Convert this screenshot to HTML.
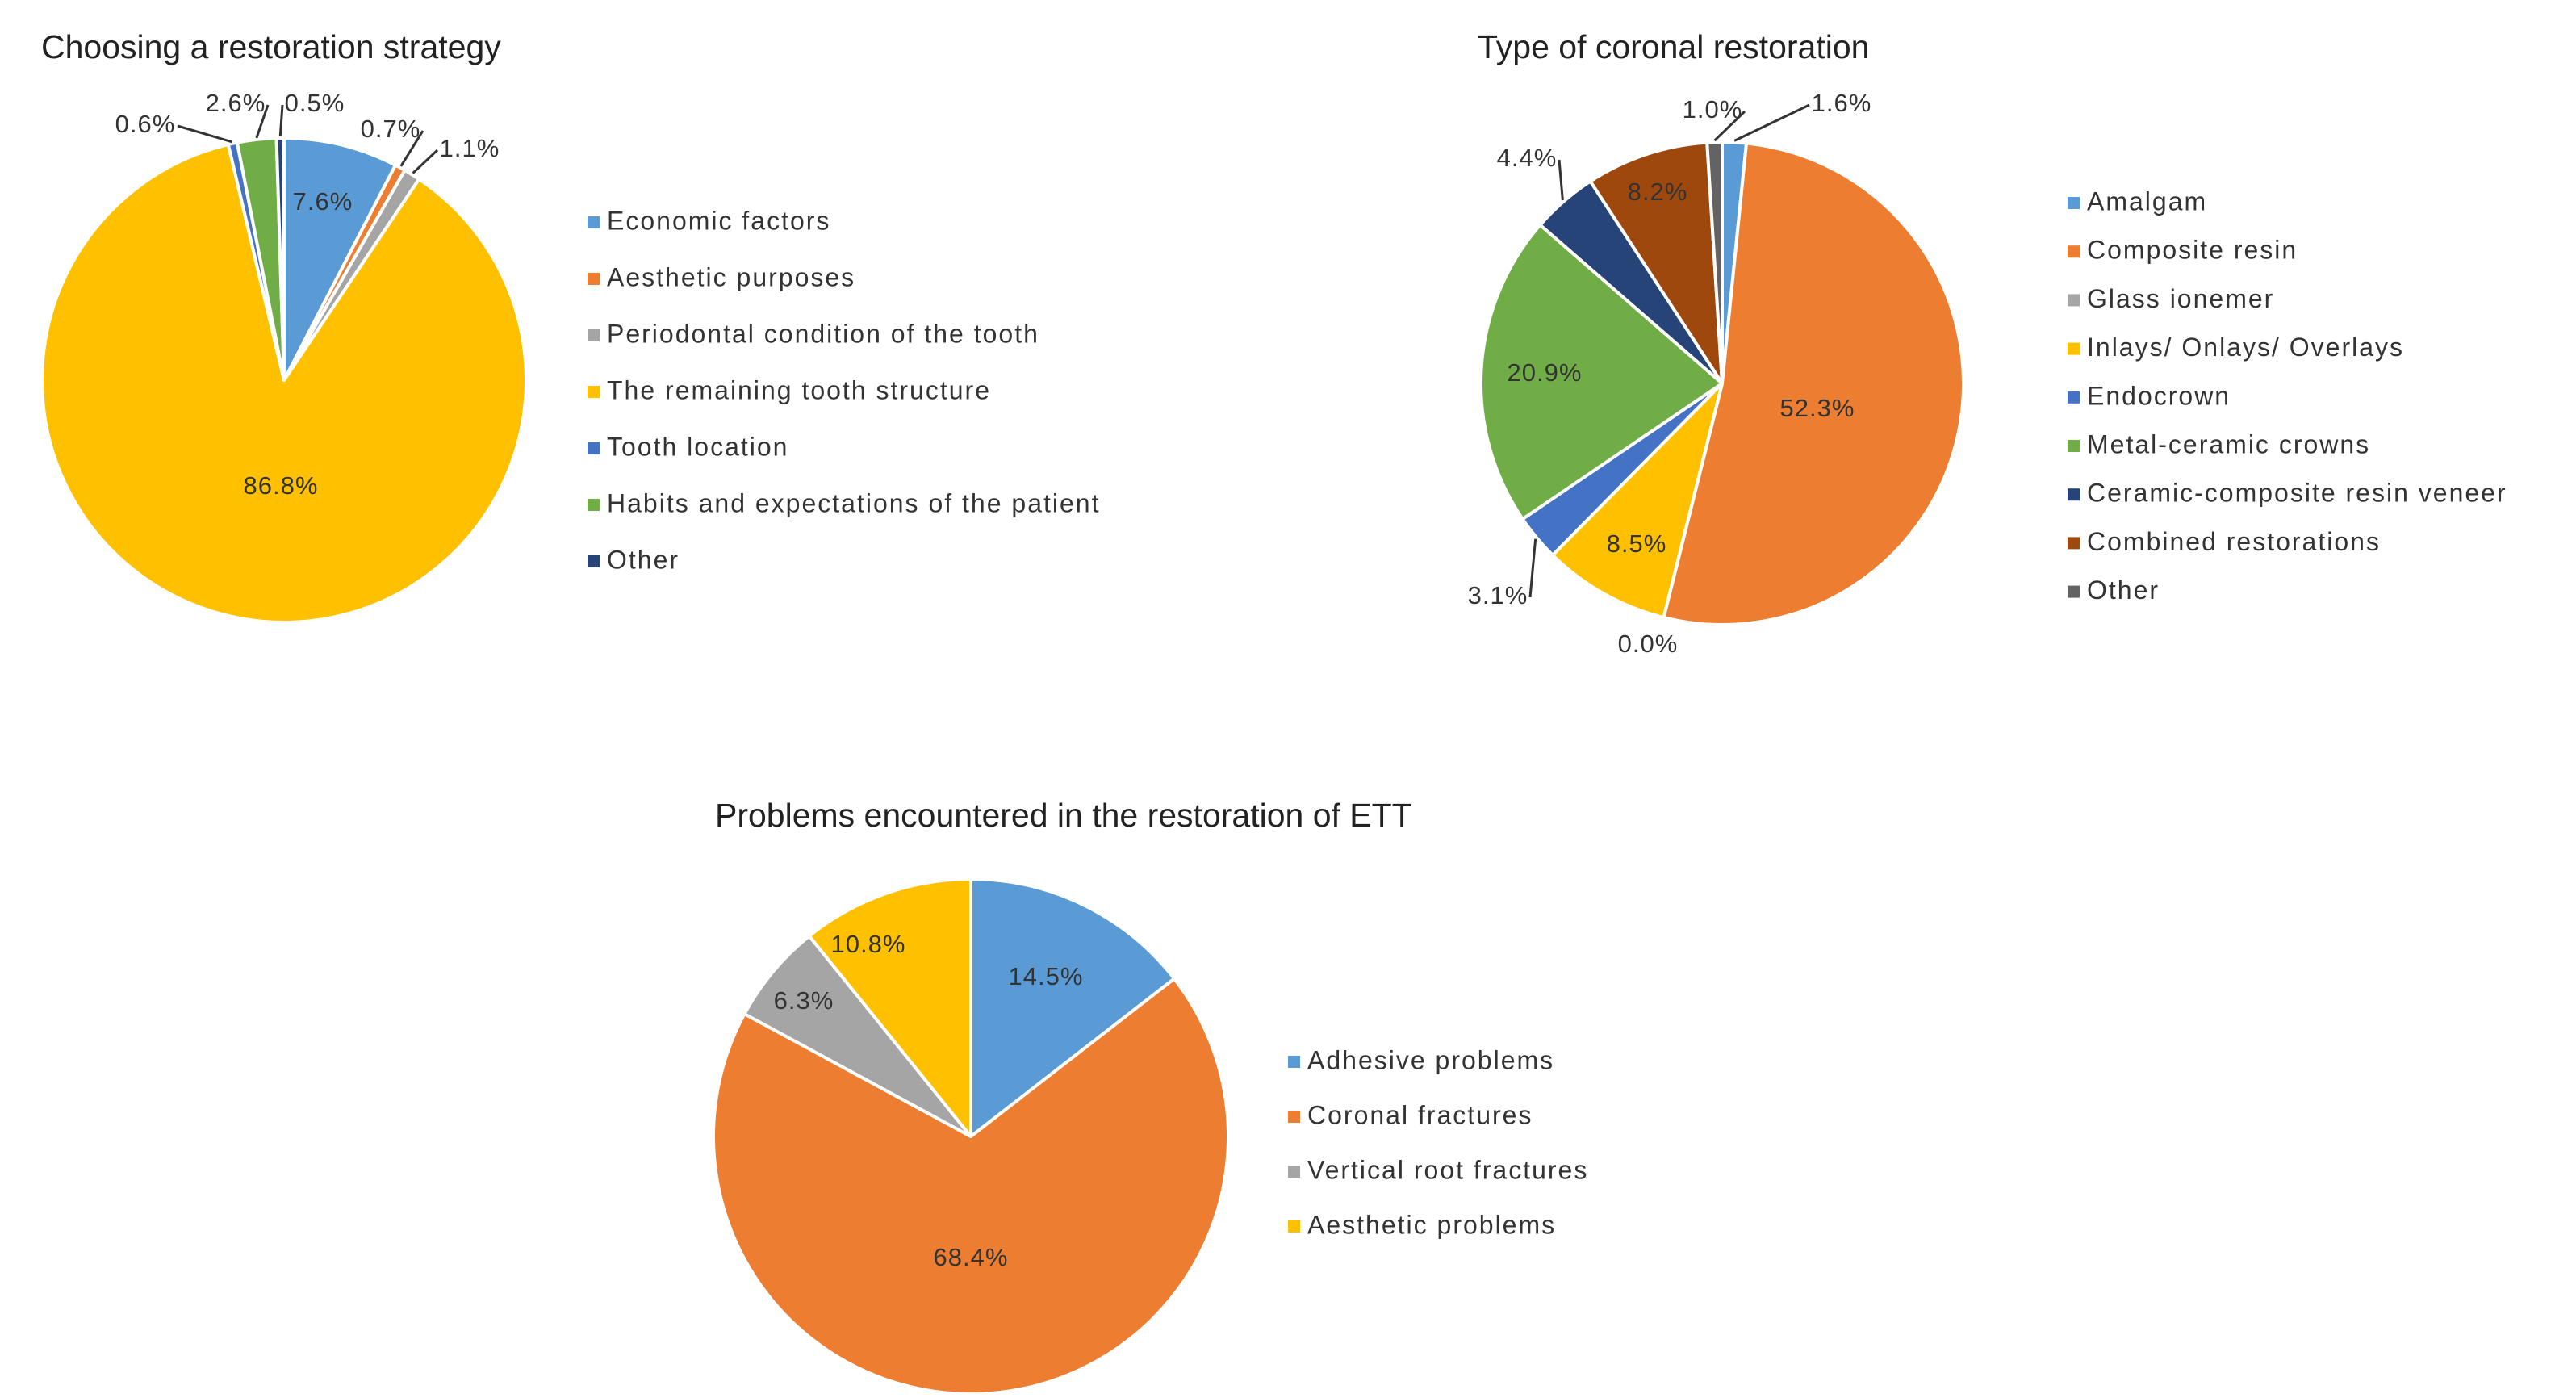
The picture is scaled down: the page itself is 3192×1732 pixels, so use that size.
<!DOCTYPE html>
<html><head><meta charset="utf-8">
<style>
html,body{margin:0;padding:0;background:#fff;}
svg{display:block;font-family:"Liberation Sans Narrow","Liberation Sans",sans-serif;}
</style></head>
<body>
<svg id="fig" width="3192" height="1732" viewBox="0 0 3192 1732" xmlns="http://www.w3.org/2000/svg"></svg>
<script>
// ---- Chart 1 data ----
const c1Categories = ["Economic factors","Aesthetic purposes","Periodontal condition of the tooth","The remaining tooth structure"," Tooth location","Habits and expectations of the patient","Other"];
const c1Values = [7.6,0.7,1.1,86.8,0.6,2.6,0.5];
const c1Labels = ["7.6%","0.7%","1.1%","86.8%","0.6%","2.6%","0.5%"];
// ---- Chart 2 data ----
const c2Categories = ["Amalgam","Composite resin","Glass ionemer","Inlays/ Onlays/ Overlays","Endocrown","Metal-ceramic crowns","Ceramic-composite resin veneer","Combined restorations","Other"];
const c2Values = [1.6,52.3,0.0,8.5,3.1,20.9,4.4,8.2,1.0];
const c2Labels = ["1.6%","52.3%","0.0%","8.5%","3.1%","20.9%","4.4%","8.2%","1.0%"];
// ---- Chart 3 data ----
const c3Categories = ["Adhesive problems","Coronal fractures","Vertical root fractures","Aesthetic problems"];
const c3Values = [14.5,68.4,6.3,10.8];
const c3Labels = ["14.5%","68.4%","6.3%","10.8%"];

const NS="http://www.w3.org/2000/svg";
const svg=document.getElementById('fig');
function mk(tag,attrs,parent){const e=document.createElementNS(NS,tag);for(const k in attrs)e.setAttribute(k,attrs[k]);(parent||svg).appendChild(e);return e;}

// layout (not data): label anchor positions, leader flag (0 inside,1 leader,2 outside no leader)
const layouts=[
 {title:"Choosing a restoration strategy",tx:51,ty:72,cx:352,cy:471,r:300,
  colors:["#5B9BD5","#ED7D31","#A5A5A5","#FFC000","#4472C4","#70AD47","#264478"],
  lab:[[400,252,0],[484,162,1],[582,186,1],[348,604,0],[180,156,1],[292,130,1],[390,130,1]],
  legX:728,legY:276,legDy:70,fs:31,legFs:32},
 {title:"Type of coronal restoration",tx:1831,ty:72,cx:2134,cy:475,r:299,
  colors:["#5B9BD5","#ED7D31","#A5A5A5","#FFC000","#4472C4","#70AD47","#264478","#9E480E","#636363"],
  lab:[[2282,130,1],[2252,508,0],[2042,800,2],[2028,676,0],[1856,740,1],[1914,464,0],[1892,198,1],[2054,240,0],[2122,138,1]],
  legX:2562,legY:252,legDy:60.2,fs:31,legFs:32},
 {title:"Problems encountered in the restoration of ETT",tx:886,ty:1024,cx:1203,cy:1408,r:319,
  colors:["#5B9BD5","#ED7D31","#A5A5A5","#FFC000"],
  lab:[[1296,1212,0],[1203,1560,0],[996,1242,0],[1076,1172,0]],
  legX:1596,legY:1316,legDy:68,fs:31,legFs:32}
];
const datasets=[[c1Categories,c1Values,c1Labels],[c2Categories,c2Values,c2Labels],[c3Categories,c3Values,c3Labels]];

datasets.forEach((ds,ci)=>{
  const [cats,vals,labs]=ds;const L=layouts[ci];
  const g=mk('g',{});
  
  
  const t=mk('text',{x:L.tx,y:L.ty,'font-size':41,fill:'#222'},g);t.textContent=L.title;
  
  
  const total=vals.reduce((a,b)=>a+b,0);
  let acc=0;
  vals.forEach((v,i)=>{
    const a0=acc/total*2*Math.PI; acc+=v; const a1=acc/total*2*Math.PI;
    const p=(a)=>[L.cx+L.r*Math.sin(a),L.cy-L.r*Math.cos(a)];
    const [x0,y0]=p(a0),[x1,y1]=p(a1);
    const large=(a1-a0)>Math.PI?1:0;
    let d;
    if(v>0) d=`M${L.cx},${L.cy} L${x0},${y0} A${L.r},${L.r} 0 ${large} 1 ${x1},${y1} Z`;
    else d=`M${L.cx},${L.cy} L${x0},${y0} Z`;
    const s=mk('path',{d:d,fill:L.colors[i],stroke:'#fff','stroke-width':4,'stroke-linejoin':'round'},g);
    
    
    const [lx,ly,out]=L.lab[i];
    if(out===1){
      const am=(a0+a1)/2;
      const ex=L.cx+(L.r+2)*Math.sin(am), ey=L.cy-(L.r+2)*Math.cos(am);
      const side=ex>lx?1:-1;
      const ax=lx+side*40, ay=ly;
      const ln=mk('polyline',{points:`${ex},${ey} ${ax},${ay}`,fill:'none',stroke:'#333','stroke-width':3},g);
      
      
    }
    const lt=mk('text',{x:lx,y:ly,'font-size':L.fs,'text-anchor':'middle','dominant-baseline':'middle',fill:'#333','letter-spacing':1},g);
    lt.textContent=labs[i];
    
    
    const ly2=L.legY+i*L.legDy;
    const sq=mk('rect',{x:L.legX,y:ly2-8,width:15,height:15,fill:L.colors[i]},g);
    
    
    const tx=mk('text',{x:L.legX+24,y:ly2,'font-size':L.legFs,'dominant-baseline':'middle',fill:'#333','letter-spacing':2},g);
    tx.textContent=cats[i];
    
    
  });
});
</script>
</body></html>
